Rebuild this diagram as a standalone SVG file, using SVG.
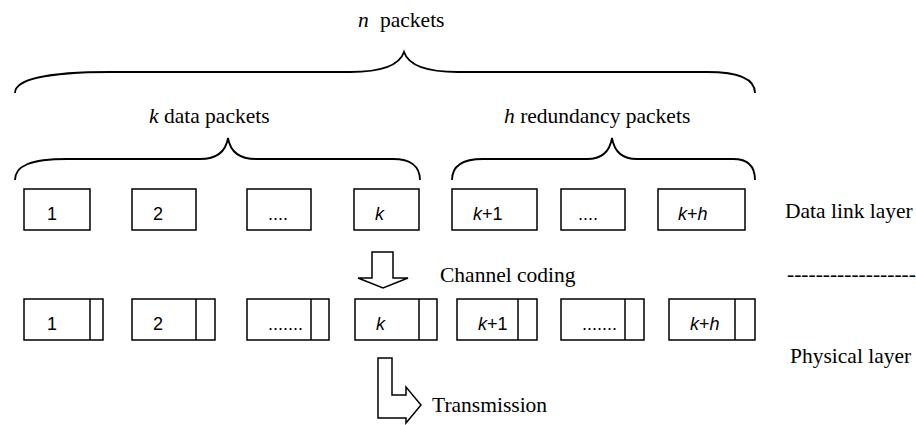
<svg xmlns="http://www.w3.org/2000/svg" width="916" height="425" viewBox="0 0 916 425">
<style>
.t{font-family:"Liberation Serif","Times New Roman",serif;font-size:21.5px;fill:#000}
.i{font-style:italic}
.b{font-family:"Liberation Sans",Arial,sans-serif;font-size:18px;fill:#000}
.box{fill:#fff;stroke:#000;stroke-width:1.5}
.br{fill:none;stroke:#000;stroke-width:1.8}
.ar{fill:#fff;stroke:#000;stroke-width:1.5;stroke-linejoin:miter}
</style>
<rect width="916" height="425" fill="#fff"/>
<g id="braces">
<path class="br" d="M15,93 C15,80 45,72 110,72 L350,72 C385,72 400,64 404,52 C408,64 423,72 458,72 L707,72 C740,72 755,80 755,93"/>
<path class="br" d="M15,180 C15,166 30,159 67,159 L200,159 C218,159 226,150 228,138 C230,150 238,159 256,159 L393,159 C410,159 420,166 420,180"/>
<path class="br" d="M452,180 C452,166 462,159 483,159 L587,159 C604,159 610,150 612,138 C614,150 620,159 637,159 L733,159 C748,159 755,166 755,180"/>
</g>
<g id="labels">
<text class="t" y="27"><tspan class="i" x="358">n</tspan><tspan x="380">packets</tspan></text>
<text class="t" x="149" y="123"><tspan class="i">k</tspan> data packets</text>
<text class="t" x="504" y="123"><tspan class="i">h</tspan> redundancy packets</text>
<text class="t" x="785" y="218">Data link layer</text>
<text class="t" x="787" y="281">------------------</text>
<text class="t" x="790" y="363">Physical layer</text>
</g>
<g id="dl1"><rect class="box" x="24" y="189" width="66" height="41"/><text class="b" x="47" y="220">1</text></g>
<g id="dl2"><rect class="box" x="132" y="189" width="64" height="41"/><text class="b" x="153" y="220">2</text></g>
<g id="dl3"><rect class="box" x="247" y="189" width="64" height="41"/><text class="b" x="268" y="220">....</text></g>
<g id="dlk"><rect class="box" x="354" y="189" width="65" height="41"/><text class="b i" x="375" y="220">k</text></g>
<g id="dlk1"><rect class="box" x="452" y="189" width="85" height="41"/><text class="b" x="473" y="220"><tspan class="i">k</tspan>+1</text></g>
<g id="dl6"><rect class="box" x="561" y="189" width="64" height="41"/><text class="b" x="578" y="220">....</text></g>
<g id="dlkh"><rect class="box" x="658" y="189" width="87" height="41"/><text class="b" x="678" y="220"><tspan class="i">k</tspan>+<tspan class="i">h</tspan></text></g>
<g id="ph1"><rect class="box" x="24" y="299" width="79" height="41"/><line class="box" x1="90" y1="299" x2="90" y2="340"/><text class="b" x="47" y="330">1</text></g>
<g id="ph2"><rect class="box" x="132" y="299" width="83" height="41"/><line class="box" x1="196" y1="299" x2="196" y2="340"/><text class="b" x="153" y="330">2</text></g>
<g id="ph3"><rect class="box" x="247" y="299" width="82" height="41"/><line class="box" x1="311" y1="299" x2="311" y2="340"/><text class="b" x="268" y="330">.......</text></g>
<g id="phk"><rect class="box" x="355" y="299" width="82" height="41"/><line class="box" x1="419" y1="299" x2="419" y2="340"/><text class="b i" x="376" y="330">k</text></g>
<g id="phk1"><rect class="box" x="457" y="299" width="80" height="41"/><line class="box" x1="518" y1="299" x2="518" y2="340"/><text class="b" x="478" y="330"><tspan class="i">k</tspan>+1</text></g>
<g id="ph6"><rect class="box" x="561" y="299" width="83" height="41"/><line class="box" x1="625" y1="299" x2="625" y2="340"/><text class="b" x="582" y="330">.......</text></g>
<g id="phkh"><rect class="box" x="669" y="299" width="86" height="41"/><line class="box" x1="735" y1="299" x2="735" y2="340"/><text class="b" x="690" y="330"><tspan class="i">k</tspan>+<tspan class="i">h</tspan></text></g>
<g id="connectors">
<path class="ar" d="M372,252 L393,252 L393,278 L408,278 L383,288 L358,278 L372,278 Z"/>
<text class="t" x="440" y="282">Channel coding</text>
<path class="ar" d="M378,358 L392,358 L392,395 L406,395 L406,387 L421,405 L406,423 L406,418 L378,418 Z"/>
<text class="t" x="432" y="412">Transmission</text>
</g>
</svg>
